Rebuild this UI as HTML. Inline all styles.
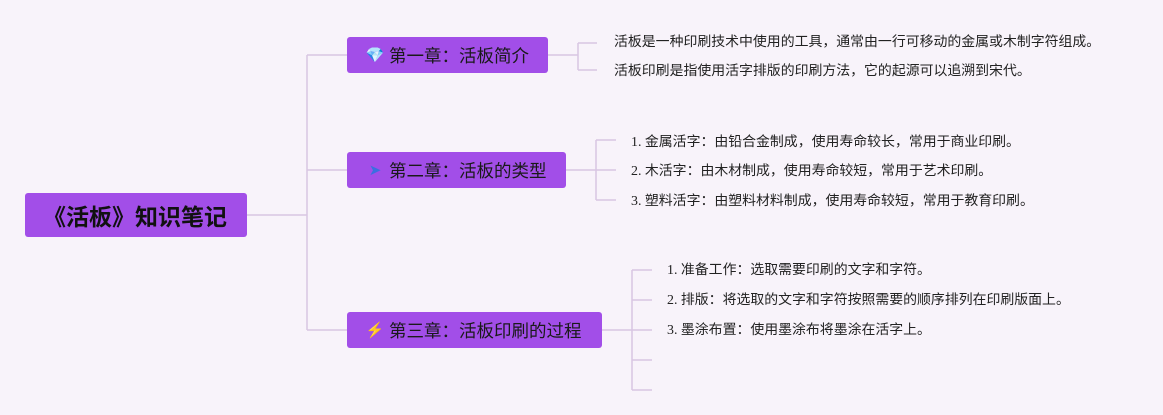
<!DOCTYPE html>
<html><head><meta charset="utf-8"><style>
body{margin:0;width:1163px;height:415px;background:#f8f3fa;position:relative;overflow:hidden;font-family:"Liberation Serif","Noto Sans CJK SC",sans-serif;}
.box{position:absolute;background:#a24ee8;border-radius:3px;color:#1a1a1a;display:flex;align-items:center;box-sizing:border-box;}
.ch{font-size:17.5px;padding-left:18px;height:36px;}
.ic{width:20px;margin-right:4px;font-size:15px;text-align:center}
.t{position:absolute;font-size:13.9px;color:#222;white-space:nowrap;line-height:16px;}
</style></head><body>
<svg width="1163" height="415" style="position:absolute;left:0;top:0">
<g stroke="#d8c6e2" stroke-width="1.5" fill="none">
<path d="M247 215H307M307 55V330M307 55H347M307 170H347M307 330H347"/>
<path d="M548 55H578M578 43V70M578 43H597M578 70H597"/>
<path d="M566 170H596M596 140V200M596 140H616M596 170H616M596 200H616"/>
<path d="M602 330H632M632 270V390M632 270H652M632 300H652M632 330H652M632 360H652M632 390H652"/>
</g></svg>
<div class="box" style="left:25px;top:193px;width:222px;height:44px;font-size:23px;font-weight:bold;padding-left:18px;color:#111">《活板》知识笔记</div>
<div class="box ch" style="left:347px;top:37px;width:201px"><span class="ic" style="color:#f5c518">💎</span>第一章：活板简介</div>
<div class="box ch" style="left:347px;top:152px;width:219px"><span class="ic" style="color:#3b6fe0">➤</span>第二章：活板的类型</div>
<div class="box ch" style="left:347px;top:312px;width:255px"><span class="ic" style="color:#e0245e">⚡</span>第三章：活板印刷的过程</div>
<div class="t" style="left:614px;top:35px">活板是一种印刷技术中使用的工具，通常由一行可移动的金属或木制字符组成。</div>
<div class="t" style="left:614px;top:64px">活板印刷是指使用活字排版的印刷方法，它的起源可以追溯到宋代。</div>
<div class="t" style="left:631px;top:135px">1. 金属活字：由铅合金制成，使用寿命较长，常用于商业印刷。</div>
<div class="t" style="left:631px;top:164px">2. 木活字：由木材制成，使用寿命较短，常用于艺术印刷。</div>
<div class="t" style="left:631px;top:194px">3. 塑料活字：由塑料材料制成，使用寿命较短，常用于教育印刷。</div>
<div class="t" style="left:667px;top:263px">1. 准备工作：选取需要印刷的文字和字符。</div>
<div class="t" style="left:667px;top:293px">2. 排版：将选取的文字和字符按照需要的顺序排列在印刷版面上。</div>
<div class="t" style="left:667px;top:323px">3. 墨涂布置：使用墨涂布将墨涂在活字上。</div>
</body></html>
